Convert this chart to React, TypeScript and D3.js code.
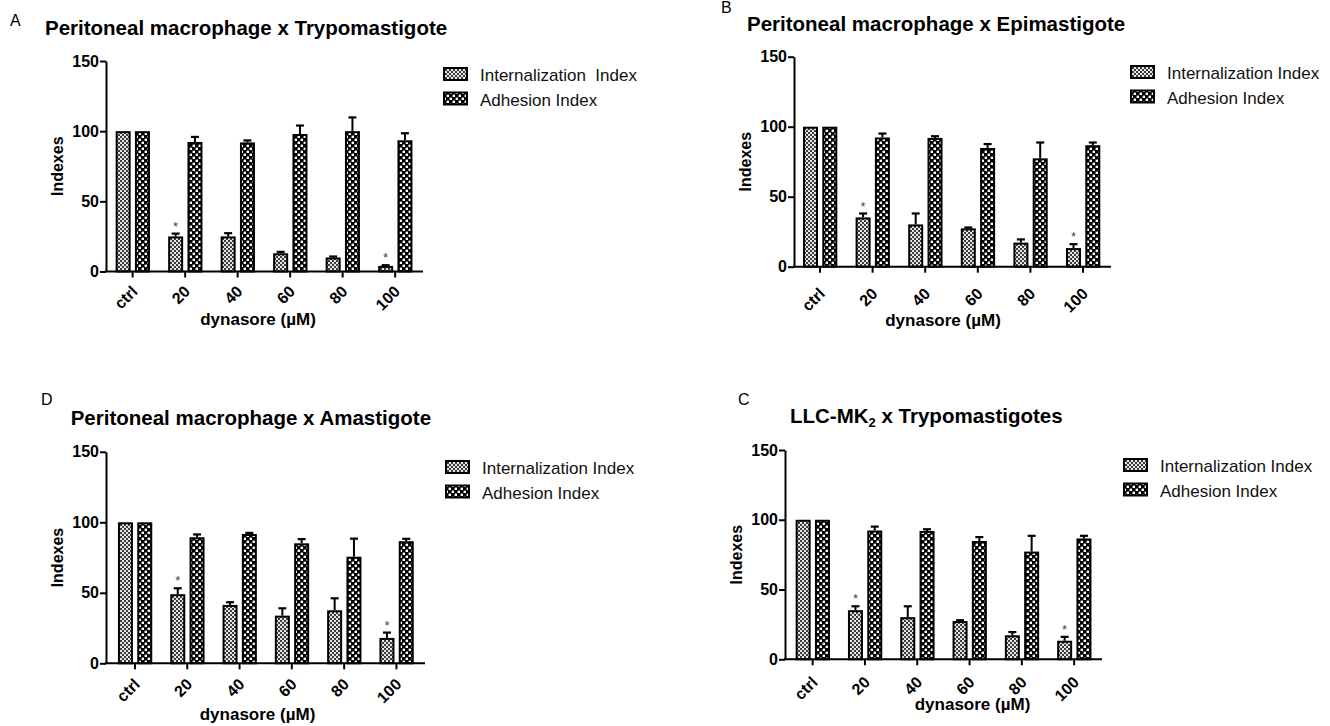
import * as d3 from "d3";
import { useEffect, useRef } from "react";

// categories and series values
const categories = ["ctrl", "20", "40", "60", "80", "100"];
const yTicks = [0, 50, 100, 150];
const starred = ["20", "100"];

const intA = [100, 25, 25, 13, 10, 4];
const intAErr = [0, 2, 2.3, 1, 0.7, 0.5];
const adhA = [100, 92.3, 92, 98, 100, 93.5];
const adhAErr = [0, 3.6, 1.4, 6, 9.8, 5];

const intB = [100, 35.2, 30.2, 27.4, 17.2, 13.3];
const intBErr = [0, 2.8, 7.8, 0.6, 2.3, 2.8];
const adhB = [100, 92.3, 92, 84.8, 77.4, 86.8];
const adhBErr = [0, 2.8, 1.2, 2.8, 11.3, 1.9];

const intD = [100, 49, 41.4, 33.8, 37.6, 18];
const intDErr = [0, 4.2, 1.9, 5.2, 8.5, 3.8];
const adhD = [100, 89.4, 91.7, 85.1, 75.6, 86.6];
const adhDErr = [0, 2, 0.8, 3, 12.8, 1.7];

const intC = [100, 35.2, 30.2, 27.4, 17.2, 13.3];
const intCErr = [0, 2.8, 7.8, 0.6, 2.3, 2.8];
const adhC = [100, 92.3, 92, 84.8, 77.2, 86.6];
const adhCErr = [0, 2.8, 1.2, 2.8, 11.3, 1.9];

const FONT = 'Arial, "Liberation Sans", sans-serif';

const panels = [
  {
    letter: "A", letterX: 10, letterY: 26,
    title: "Peritoneal macrophage x Trypomastigote", titleX: 45, titleY: 35,
    axisX: 106, axisRight: 423, bandStart: 106.4, step: 52.5, y0: 271.5, yTop: 61,
    tickDY: 21, xLabelX: 258, xLabelY: 325,
    legendX: 443, legendY: 67, intLabel: "Internalization  Index",
    int: intA, intErr: intAErr, adh: adhA, adhErr: adhAErr,
  },
  {
    letter: "B", letterX: 721, letterY: 13,
    title: "Peritoneal macrophage x Epimastigote", titleX: 747, titleY: 31,
    axisX: 794, axisRight: 1111, bandStart: 793.7, step: 52.6, y0: 266.7, yTop: 56.7,
    tickDY: 28, xLabelX: 943, xLabelY: 326,
    legendX: 1130, legendY: 65, intLabel: "Internalization Index",
    int: intB, intErr: intBErr, adh: adhB, adhErr: adhBErr,
  },
  {
    letter: "D", letterX: 41, letterY: 405,
    title: "Peritoneal macrophage x Amastigote", titleX: 70.7, titleY: 425,
    axisX: 106, axisRight: 425, bandStart: 108.8, step: 52.3, y0: 663.3, yTop: 451.8,
    tickDY: 22, xLabelX: 257.5, xLabelY: 720,
    legendX: 445, legendY: 460, intLabel: "Internalization Index",
    int: intD, intErr: intDErr, adh: adhD, adhErr: adhDErr,
  },
  {
    letter: "C", letterX: 738, letterY: 405,
    title: null, titleX: 790, titleY: 423,
    axisX: 785, axisRight: 1102, bandStart: 786.5, step: 52.3, y0: 659.3, yTop: 450,
    tickDY: 24, xLabelX: 972.5, xLabelY: 710,
    legendX: 1123, legendY: 458, intLabel: "Internalization Index",
    int: intC, intErr: intCErr, adh: adhC, adhErr: adhCErr,
  },
];

const App = () => {
  const ref = useRef<SVGSVGElement>(null);

  useEffect(() => {
    const svg = d3.select(ref.current);
    svg.selectAll("*").remove();

    // patterns
    const defs = svg.append("defs");
    const pInt = defs
      .append("pattern")
      .attr("id", "pInt")
      .attr("patternUnits", "userSpaceOnUse")
      .attr("width", 4)
      .attr("height", 4);
    pInt.append("rect").attr("width", 4).attr("height", 4).attr("fill", "#e6e6e6");
    pInt.append("rect").attr("width", 2).attr("height", 2).attr("fill", "#3c3c3c");
    pInt.append("rect").attr("x", 2).attr("y", 2).attr("width", 2).attr("height", 2).attr("fill", "#3c3c3c");

    const pAdh = defs
      .append("pattern")
      .attr("id", "pAdh")
      .attr("patternUnits", "userSpaceOnUse")
      .attr("width", 6)
      .attr("height", 6);
    pAdh.append("rect").attr("width", 6).attr("height", 6).attr("fill", "#000");
    pAdh.append("rect").attr("x", 0.6).attr("y", 0.6).attr("width", 2.4).attr("height", 2.4).attr("fill", "#fff");
    pAdh.append("rect").attr("x", 3.6).attr("y", 3.6).attr("width", 2.4).attr("height", 2.4).attr("fill", "#fff");

    panels.forEach((p) => {
      const g = svg.append("g").style("font-family", FONT);

      const y = d3.scaleLinear().domain([0, 150]).range([p.y0, p.yTop]);
      const x = d3
        .scaleBand()
        .domain(categories)
        .range([p.bandStart, p.bandStart + p.step * categories.length])
        .padding(0);

      // panel letter
      g.append("text")
        .attr("x", p.letterX)
        .attr("y", p.letterY)
        .style("font-size", "16px")
        .text(p.letter);

      // title
      const title = g
        .append("text")
        .attr("x", p.titleX)
        .attr("y", p.titleY)
        .style("font-size", "20.5px")
        .style("font-weight", "bold");
      if (p.title) {
        title.text(p.title);
      } else {
        title.append("tspan").text("LLC-MK");
        title.append("tspan").attr("dy", 4).style("font-size", "13px").text("2");
        title.append("tspan").attr("dy", -4).text(" x Trypomastigotes");
      }

      // bars
      const bw = 15;
      const rows = categories.map((c, i) => ({
        c,
        int: p.int[i],
        intErr: p.intErr[i],
        adh: p.adh[i],
        adhErr: p.adhErr[i],
      }));
      const cx = (c: string) => (x(c) as number) + x.bandwidth() / 2;

      const series = [
        { key: "int", err: "intErr", fill: "url(#pInt)", off: -2 - bw },
        { key: "adh", err: "adhErr", fill: "url(#pAdh)", off: 2.3 },
      ];

      series.forEach((s) => {
        g.selectAll(null)
          .data(rows)
          .join("rect")
          .attr("x", (d) => cx(d.c) + s.off + 1)
          .attr("y", (d) => y((d as any)[s.key]) + 1)
          .attr("width", bw - 2)
          .attr("height", (d) => p.y0 - y((d as any)[s.key]) - 1)
          .attr("fill", s.fill)
          .attr("stroke", "#000")
          .attr("stroke-width", 2);

        const withErr = rows.filter((d) => (d as any)[s.err] > 0);
        g.selectAll(null)
          .data(withErr)
          .join("line")
          .attr("x1", (d) => cx(d.c) + s.off + bw / 2)
          .attr("x2", (d) => cx(d.c) + s.off + bw / 2)
          .attr("y1", (d) => y((d as any)[s.key]))
          .attr("y2", (d) => y((d as any)[s.key] + (d as any)[s.err]))
          .attr("stroke", "#000")
          .attr("stroke-width", 2);
        g.selectAll(null)
          .data(withErr)
          .join("line")
          .attr("x1", (d) => cx(d.c) + s.off + bw / 2 - 4)
          .attr("x2", (d) => cx(d.c) + s.off + bw / 2 + 4)
          .attr("y1", (d) => y((d as any)[s.key] + (d as any)[s.err]))
          .attr("y2", (d) => y((d as any)[s.key] + (d as any)[s.err]))
          .attr("stroke", "#000")
          .attr("stroke-width", 2.2);
      });

      // significance stars
      g.selectAll(null)
        .data(rows.filter((d) => starred.includes(d.c)))
        .join("text")
        .attr("x", (d) => cx(d.c) - 2 - bw / 2)
        .attr("y", (d) => y(d.int + d.intErr) - 3)
        .attr("text-anchor", "middle")
        .style("font-size", "13px")
        .style("fill", "#444")
        .text("*");

      // y axis
      const yAxis = g
        .append("g")
        .attr("transform", `translate(${p.axisX},0)`)
        .call(d3.axisLeft(y).tickValues(yTicks).tickSize(6).tickSizeOuter(0).tickPadding(1));
      yAxis.select(".domain").attr("stroke-width", 2);
      yAxis.selectAll(".tick line").attr("stroke-width", 2);
      yAxis
        .selectAll(".tick text")
        .style("font-size", "16px")
        .style("font-weight", "bold")
        .style("font-family", FONT)
        .attr("fill", "#000");

      // x axis
      g.append("line")
        .attr("x1", p.axisX - 1)
        .attr("x2", p.axisRight)
        .attr("y1", p.y0)
        .attr("y2", p.y0)
        .attr("stroke", "#000")
        .attr("stroke-width", 2);
      g.selectAll(null)
        .data(categories)
        .join("line")
        .attr("x1", (c) => cx(c))
        .attr("x2", (c) => cx(c))
        .attr("y1", p.y0)
        .attr("y2", p.y0 + 6)
        .attr("stroke", "#000")
        .attr("stroke-width", 2);
      g.selectAll(null)
        .data(categories)
        .join("text")
        .attr("transform", (c) => `translate(${cx(c) + 6},${p.y0 + p.tickDY}) rotate(-45)`)
        .attr("text-anchor", "end")
        .style("font-size", "16px")
        .style("font-weight", "bold")
        .text((c) => c);

      // axis titles
      g.append("text")
        .attr("x", p.xLabelX)
        .attr("y", p.xLabelY)
        .attr("text-anchor", "middle")
        .style("font-size", "17px")
        .style("font-weight", "bold")
        .text("dynasore (µM)");
      g.append("text")
        .attr("transform", `translate(${p.axisX - 43},${(p.y0 + p.yTop) / 2}) rotate(-90)`)
        .attr("text-anchor", "middle")
        .style("font-size", "16px")
        .style("font-weight", "bold")
        .text("Indexes");

      // legend
      const legend = [
        { label: p.intLabel, fill: "url(#pInt)" },
        { label: "Adhesion Index", fill: "url(#pAdh)" },
      ];
      const lg = g.append("g").attr("transform", `translate(${p.legendX},${p.legendY})`);
      lg.selectAll(null)
        .data(legend)
        .join("rect")
        .attr("x", 1)
        .attr("y", (_, i) => i * 24.5 + 1)
        .attr("width", 23)
        .attr("height", 12)
        .attr("fill", (d) => d.fill)
        .attr("stroke", "#000")
        .attr("stroke-width", 2);
      lg.selectAll(null)
        .data(legend)
        .join("text")
        .attr("x", 37)
        .attr("y", (_, i) => i * 24.5 + 14)
        .style("font-size", "17px")
        .style("white-space", "pre")
        .attr("fill", "#111")
        .text((d) => d.label);
    });
  }, []);

  return (
    <svg
      ref={ref}
      width={1330}
      height={726}
      style={{ position: "absolute", left: 0, top: 0, background: "#fff" }}
    />
  );
};

export default App;
